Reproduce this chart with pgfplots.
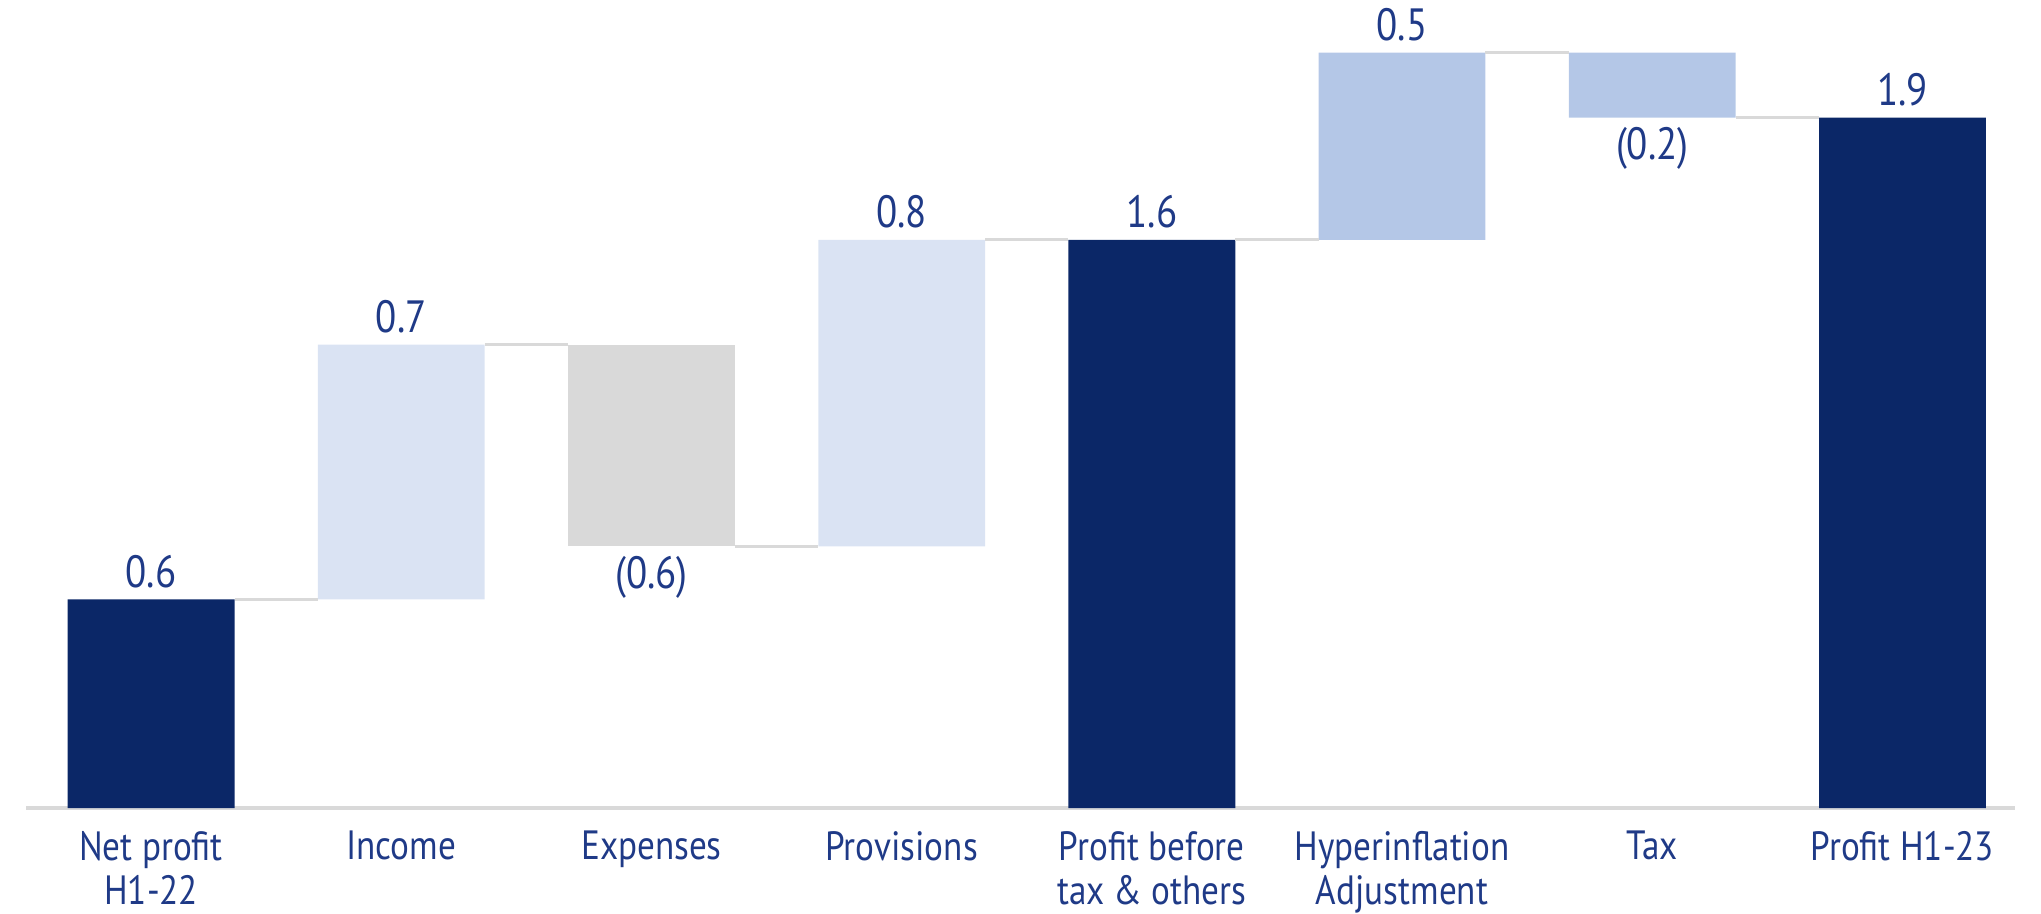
\documentclass[border=0pt]{standalone}
\usepackage{pgfplots}
\pgfplotsset{compat=1.18}
\usepackage{fontspec}
\setmainfont[FakeStretch=0.86]{PT Sans}
\definecolor{navy}{HTML}{0B2767}
\definecolor{lightb}{HTML}{DAE3F3}
\definecolor{midb}{HTML}{B4C7E7}
\definecolor{greyb}{HTML}{D9D9D9}
\definecolor{txt}{HTML}{1F3A87}
\definecolor{conn}{HTML}{D9D9D9}
\begin{document}
\begin{tikzpicture}
\pgfplotsset{common/.style={scale only axis, width=19.49cm, height=7.92cm,
  xmin=-0.5, xmax=7.45, ymin=0, ymax=2.275}}
\begin{axis}[common, ybar stacked, bar width=0.6667,
  axis x line*=bottom, hide y axis,
  x axis line style={-, draw=conn, line width=1pt},
  xtick={0,...,7}, major tick length=0,
  xticklabels={{Net profit\\H1-22},Income,Expenses,Provisions,{Profit before\\tax \& others},{Hyperinflation\\Adjustment},Tax,{Profit H1-23}},
  xticklabel style={align=center, text=txt, font=\fontsize{11.4}{12.4}\selectfont, anchor=north, yshift=-0.1cm}]
\addplot[draw=none, fill=none] coordinates {(0,0) (1,0.588) (2,0.737) (3,0.737) (4,0) (5,1.600) (6,1.944) (7,0)};
\addplot[draw=none, fill=navy] coordinates {(0,0.588) (1,0) (2,0) (3,0) (4,1.600) (5,0) (6,0) (7,1.944)};
\addplot[draw=none, fill=lightb] coordinates {(0,0) (1,0.717) (2,0) (3,0.863) (4,0) (5,0) (6,0) (7,0)};
\addplot[draw=none, fill=greyb] coordinates {(0,0) (1,0) (2,0.568) (3,0) (4,0) (5,0) (6,0) (7,0)};
\addplot[draw=none, fill=midb] coordinates {(0,0) (1,0) (2,0) (3,0) (4,0) (5,0.527) (6,0.183) (7,0)};
\end{axis}
\begin{axis}[common, axis lines=none, ticks=none, clip=false]
\addplot[conn, line width=0.8pt] coordinates {(0.3333,0.588) (0.6667,0.588)};
\addplot[conn, line width=0.8pt] coordinates {(1.3333,1.305) (1.6667,1.305)};
\addplot[conn, line width=0.8pt] coordinates {(2.3333,0.737) (2.6667,0.737)};
\addplot[conn, line width=0.8pt] coordinates {(3.3333,1.600) (3.6667,1.600)};
\addplot[conn, line width=0.8pt] coordinates {(4.3333,1.600) (4.6667,1.600)};
\addplot[conn, line width=0.8pt] coordinates {(5.3333,2.127) (5.6667,2.127)};
\addplot[conn, line width=0.8pt] coordinates {(6.3333,1.944) (6.6667,1.944)};
\begin{scope}[every node/.style={text=txt, font=\fontsize{12.6}{13}\selectfont, anchor=base, inner sep=0pt}]
\node[yshift=3.3pt] at (axis cs:0,0.588) {0.6};
\node[yshift=3.3pt] at (axis cs:1,1.305) {0.7};
\node[yshift=-11.8pt] at (axis cs:2,0.737) {(0.6)};
\node[yshift=3.3pt] at (axis cs:3,1.600) {0.8};
\node[yshift=3.3pt] at (axis cs:4,1.600) {1.6};
\node[yshift=3.3pt] at (axis cs:5,2.127) {0.5};
\node[yshift=-11.8pt] at (axis cs:6,1.944) {(0.2)};
\node[yshift=3.3pt] at (axis cs:7,1.944) {1.9};
\end{scope}
\end{axis}
\path (current axis.south west) ++(-0.255cm,-1.033cm) coordinate (bbA);
\path (current axis.north east) ++(0.255cm,0cm) coordinate (bbB);
\pgfresetboundingbox
\useasboundingbox (bbA) rectangle (bbB);
\end{tikzpicture}
\end{document}
